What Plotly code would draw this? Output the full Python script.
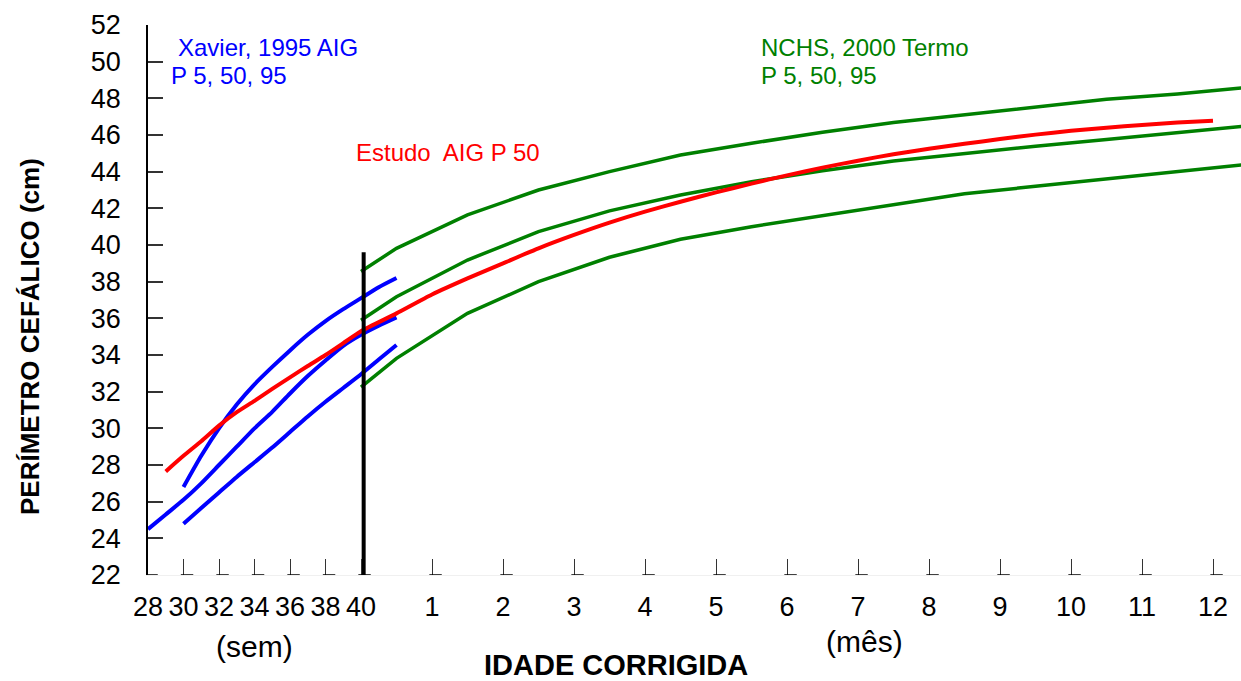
import plotly.graph_objects as go

# ---------------- data (x in weeks of corrected age; months converted as 40 + 4*m) ----------------
# Xavier 1995 AIG (blue) percentiles, by gestational week
xavier_p95_weeks = [30, 31, 32, 33, 34, 35, 36, 37, 38, 39, 40, 41, 42]
xavier_p95 = [26.8, 28.5, 30.0, 31.3, 32.4, 33.35, 34.25, 35.1, 35.85, 36.5, 37.1, 37.7, 38.2]

xavier_p50_weeks = [28, 29, 30, 31, 32, 33, 34, 35, 36, 37, 38, 39, 40, 41, 42]
xavier_p50 = [24.5, 25.3, 26.1, 27.0, 28.0, 29.0, 30.0, 30.9, 31.9, 32.85, 33.7, 34.5, 35.1, 35.6, 36.05]

xavier_p5_weeks = [30, 31, 32, 33, 34, 35, 36, 37, 38, 39, 40, 41, 42]
xavier_p5 = [24.8, 25.65, 26.5, 27.35, 28.15, 28.95, 29.8, 30.65, 31.45, 32.2, 32.95, 33.75, 34.55]

# Estudo AIG P50 (red): preterm weeks, then months after term
estudo_weeks = [29, 30, 31, 32, 33, 34, 35, 36, 37, 38, 39, 40]
estudo_weeks_vals = [27.65, 28.5, 29.3, 30.15, 30.88, 31.5, 32.15, 32.78, 33.4, 34.0, 34.65, 35.3]
estudo_months = [0.5, 1, 1.5, 2, 2.5, 3, 3.5, 4, 4.5, 5, 5.5, 6, 6.5, 7, 7.5, 8, 8.5, 9, 9.5, 10, 10.5, 11, 11.5, 12]
estudo_months_vals = [36.27, 37.3, 38.18, 39.0, 39.82, 40.55, 41.22, 41.82, 42.36, 42.87, 43.35, 43.8, 44.22,
                      44.6, 44.95, 45.25, 45.52, 45.78, 46.02, 46.23, 46.4, 46.55, 46.68, 46.78]

# NCHS 2000 term (green) percentiles, by month
nchs_months = [0, 0.5, 1.5, 2.5, 3.5, 4.5, 5.5, 6.5, 7.5, 8.5, 9.5, 10.5, 11.5, 12.5]
nchs_p95 = [38.55, 39.82, 41.64, 43.0, 44.0, 44.91, 45.55, 46.15, 46.68, 47.1, 47.53, 47.95, 48.24, 48.6]
nchs_p50 = [35.9, 37.18, 39.18, 40.73, 41.86, 42.73, 43.45, 44.05, 44.58, 45.0, 45.39, 45.76, 46.13, 46.5]
nchs_p5 = [32.25, 33.82, 36.27, 38.0, 39.33, 40.31, 41.0, 41.6, 42.2, 42.8, 43.2, 43.6, 44.0, 44.4]

# term divider
divider_week = 40.15
divider_bottom = 22
divider_top = 39.6

# axis ticks
week_ticks = [28, 30, 32, 34, 36, 38, 40]
month_ticks = [1, 2, 3, 4, 5, 6, 7, 8, 9, 10, 11, 12]
y_ticks = list(range(22, 53, 2))


def m2w(m):
    return 40 + 4 * m


FONT = "Liberation Sans, Arial, Helvetica, sans-serif"
BLUE = "#0000ff"
RED = "#ff0000"
GREEN = "#008000"

fig = go.Figure()

# green NCHS
for vals in (nchs_p95, nchs_p50, nchs_p5):
    fig.add_trace(go.Scatter(x=[m2w(m) for m in nchs_months], y=vals, mode="lines",
                             line=dict(color=GREEN, width=3.5), showlegend=False, hoverinfo="skip"))

# blue Xavier
for xs, vals in ((xavier_p95_weeks, xavier_p95), (xavier_p50_weeks, xavier_p50), (xavier_p5_weeks, xavier_p5)):
    fig.add_trace(go.Scatter(x=xs, y=vals, mode="lines",
                             line=dict(color=BLUE, width=4, shape="spline", smoothing=0.6),
                             showlegend=False, hoverinfo="skip"))

# red Estudo
fig.add_trace(go.Scatter(x=estudo_weeks + [m2w(m) for m in estudo_months],
                         y=estudo_weeks_vals + estudo_months_vals, mode="lines",
                         line=dict(color=RED, width=4, shape="spline", smoothing=0.6),
                         showlegend=False, hoverinfo="skip"))

# black divider at term
fig.add_trace(go.Scatter(x=[divider_week, divider_week], y=[divider_bottom, divider_top], mode="lines",
                         line=dict(color="black", width=4), showlegend=False, hoverinfo="skip"))

tickvals = week_ticks + [m2w(m) for m in month_ticks]
ticktext = [str(w) for w in week_ticks] + [str(m) for m in month_ticks]

# small base segments under each x tick
shapes = []
for t in tickvals:
    shapes.append(dict(type="line", xref="x", yref="y", x0=t - 0.15 if t != 28 else 28, x1=t + 0.55,
                       y0=22, y1=22, line=dict(color="black", width=1.5)))

L, R, T, B = 148, 0, 25, 106
W, H = 1241, 681
PW, PH = W - L - R, H - T - B


def px(xp):
    return (xp - L) / PW


def py(yp):
    return (H - B - yp) / PH


annotations = [
    dict(text="Xavier, 1995 AIG", x=px(176), y=py(47), color=BLUE, size=24, xa="left"),
    dict(text="P 5, 50, 95", x=px(169), y=py(75), color=BLUE, size=24, xa="left"),
    dict(text="NCHS, 2000 Termo", x=px(759), y=py(47), color=GREEN, size=24, xa="left"),
    dict(text="P 5, 50, 95", x=px(759), y=py(75), color=GREEN, size=24, xa="left"),
    dict(text="Estudo  AIG P 50", x=px(354), y=py(152), color=RED, size=24, xa="left"),
    dict(text="(sem)", x=px(254), y=py(646), color="black", size=30, xa="center"),
    dict(text="(mês)", x=px(864), y=py(641), color="black", size=30, xa="center"),
    dict(text="<b>IDADE CORRIGIDA</b>", x=px(616), y=py(665), color="black", size=29, xa="center"),
]
ann = []
for a in annotations:
    ann.append(dict(text=a["text"].replace("  ", "&nbsp; "), x=a["x"], y=a["y"], xref="paper", yref="paper",
                    xanchor=a["xa"], yanchor="middle", showarrow=False,
                    font=dict(family=FONT, size=a["size"], color=a["color"])))
ann.append(dict(text="<b>PERÍMETRO CEFÁLICO (cm)</b>", x=px(30), y=py(337), xref="paper", yref="paper",
                xanchor="center", yanchor="middle", showarrow=False, textangle=-90,
                font=dict(family=FONT, size=26, color="black")))

fig.update_layout(
    width=W, height=H,
    margin=dict(l=L, r=R, t=T, b=B),
    paper_bgcolor="white", plot_bgcolor="white",
    font=dict(family=FONT, color="black"),
    shapes=shapes,
    annotations=ann,
    xaxis=dict(range=[28, 28 + PW / 17.75], tickvals=tickvals, ticktext=ticktext,
               ticks="inside", ticklen=16, tickwidth=1.3, tickcolor="#333333",
               showline=True, linecolor="#f0f0f0", linewidth=1, showgrid=False, zeroline=False,
               tickfont=dict(family=FONT, size=27, color="black"), ticklabelstandoff=8),
    yaxis=dict(range=[22, 52], tickvals=y_ticks, ticktext=[str(v) for v in y_ticks],
               ticks="inside", ticklen=15, tickwidth=1.5, tickcolor="#333333",
               showline=True, linecolor="black", linewidth=1.5, showgrid=False, zeroline=False,
               tickfont=dict(family=FONT, size=27, color="black"), ticklabelstandoff=20),
)

fig.write_html("out.html", config={"displayModeBar": False},
               post_script="document.body.style.margin='0';document.body.style.overflow='hidden';")
